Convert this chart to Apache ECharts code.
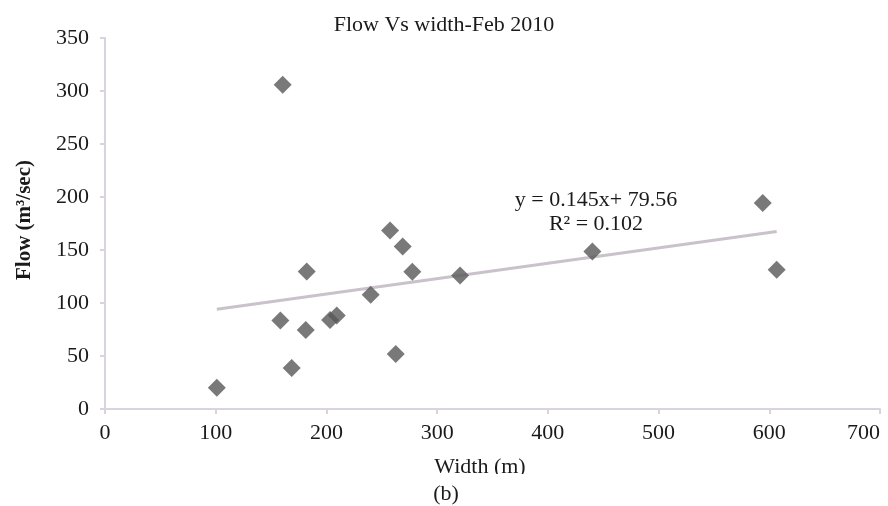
<!DOCTYPE html>
<html>
<head>
<meta charset="utf-8">
<script src="https://cdn.jsdelivr.net/npm/echarts@6/dist/echarts.min.js"></script>
<style>html,body{margin:0;padding:0;background:#fff}#c{width:888px;height:506px}</style>
</head>
<body>
<div id="c"></div>
<script>
var widths = [101, 160.5, 158.4, 182.2, 181.3, 168.6, 203.3, 209.3, 240, 262.6, 277.6, 257.5, 268.9, 320.7, 440.2, 594.1, 606.7];
var flows  = [20, 306, 83.6, 129.8, 74.5, 38.7, 84, 88.3, 107.8, 51.9, 129.5, 168.5, 153.4, 126, 148.7, 194.3, 131.4];
var trendX = [101, 606.7];
var trendY = [94.2, 167.5];
var xTicks = [0, 100, 200, 300, 400, 500, 600, 700];
var yTicks = [0, 50, 100, 150, 200, 250, 300, 350];
var titleText = 'Flow Vs width-Feb 2010';
var eqText = 'y = 0.145x+ 79.56';
var r2Text = 'R\u00B2 = 0.102';
var xName = 'Width (m)';
var yName = 'Flow (m\u00B3/sec)';
var captionText = '(b)';

var serif = '"Liberation Serif","DejaVu Serif",serif';
var chart = echarts.init(document.getElementById('c'));
var axisColor = '#d9d3dd';
chart.setOption({
  backgroundColor: '#fff',
  animation: false,
  title: {
    text: titleText, left: 'center', top: 9,
    textStyle: {fontFamily: serif, fontSize: 22, fontWeight: 'normal', color: '#1a1a1a'}
  },
  grid: {left: 105, right: 8, top: 38, bottom: 97, outerBoundsMode: 'none', containLabel: false},
  xAxis: {
    type: 'value', min: xTicks[0], max: xTicks[xTicks.length-1], interval: 100,
    axisLine: {show: true, lineStyle: {color: axisColor, width: 2}},
    axisTick: {show: true, length: 5, lineStyle: {color: axisColor, width: 2}},
    axisLabel: {fontFamily: serif, fontSize: 22, color: '#1a1a1a', margin: 13, alignMaxLabel: 'right'},
    splitLine: {show: false}
  },
  yAxis: {
    type: 'value', min: yTicks[0], max: yTicks[yTicks.length-1], interval: 50,
    axisLine: {show: true, lineStyle: {color: axisColor, width: 2}},
    axisTick: {show: true, length: 5, lineStyle: {color: axisColor, width: 2}},
    axisLabel: {fontFamily: serif, fontSize: 22, color: '#1a1a1a', margin: 16},
    splitLine: {show: false}
  },
  graphic: [
    {type: 'text', x: 480, y: 467, z: 10, style: {text: xName, font: '22px ' + serif, fill: '#1a1a1a', align: 'center', verticalAlign: 'middle'}},
    {type: 'rect', shape: {x: 420, y: 474, width: 120, height: 10}, z: 20, style: {fill: '#fff'}},
    {type: 'text', x: 446, y: 494, z: 30, style: {text: captionText, font: '22px ' + serif, fill: '#1a1a1a', align: 'center', verticalAlign: 'middle'}},
    {type: 'text', x: 25, y: 220, rotation: Math.PI / 2, z: 10, style: {text: yName, font: 'bold 21px ' + serif, fill: '#1a1a1a', align: 'center', verticalAlign: 'middle'}},
    {type: 'text', x: 596, y: 200, z: 10, style: {text: eqText, font: '22px ' + serif, fill: '#1a1a1a', align: 'center', verticalAlign: 'middle'}},
    {type: 'text', x: 596, y: 224, z: 10, style: {text: r2Text, font: '22px ' + serif, fill: '#1a1a1a', align: 'center', verticalAlign: 'middle'}}
  ],
  series: [
    {
      type: 'line', data: trendX.map(function(x, i){ return [x, trendY[i]]; }),
      symbol: 'none', lineStyle: {color: '#c9c2ca', width: 3}, z: 1, silent: true
    },
    {
      type: 'scatter', data: widths.map(function(x, i){ return [x, flows[i]]; }),
      symbol: 'diamond', symbolSize: [18, 18],
      itemStyle: {color: '#585858'}, z: 2
    }
  ]
});
</script>
</body>
</html>
